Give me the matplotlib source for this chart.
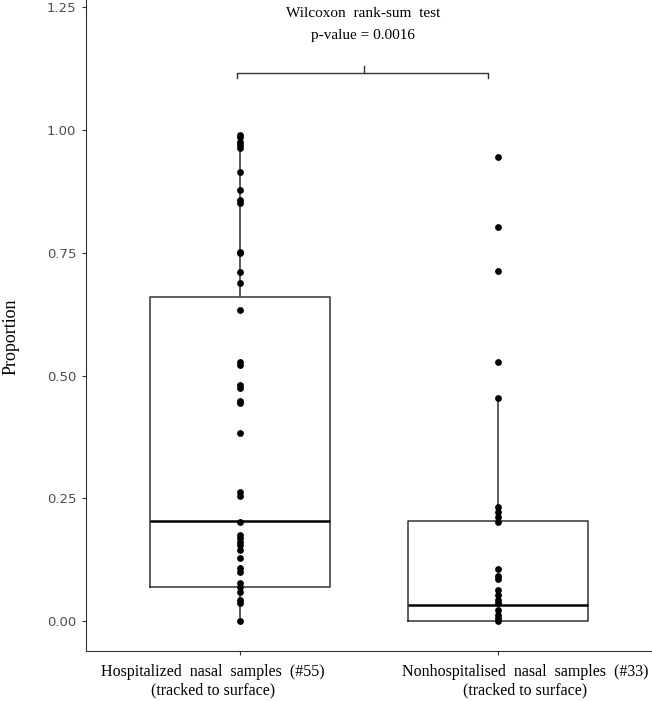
import numpy as np
import matplotlib.pyplot as plt

# groups
line1 = ['Hospitalized  nasal  samples  (#55)', 'Nonhospitalised  nasal  samples  (#33)']
line2 = ['(tracked to surface)', '(tracked to surface)']

# proportions
hosp = [0.99, 0.985, 0.976, 0.969, 0.963, 0.914, 0.878, 0.857, 0.851, 0.752,
        0.749, 0.711, 0.688, 0.633, 0.527, 0.522, 0.481, 0.475, 0.448, 0.444,
        0.383, 0.263, 0.254, 0.202, 0.175, 0.169, 0.161, 0.155, 0.145, 0.128,
        0.108, 0.100, 0.077, 0.069, 0.059, 0.043, 0.037, 0.0]
nonhosp = [0.945, 0.802, 0.713, 0.527, 0.454, 0.232, 0.222, 0.212, 0.202,
           0.106, 0.092, 0.086, 0.063, 0.053, 0.043, 0.037, 0.022, 0.012,
           0.006, 0.0]

# box statistics
whislo = [0.0, 0.0]
q1 = [0.07, 0.0]
med = [0.203, 0.033]
q3 = [0.66, 0.203]
whishi = [0.99, 0.454]

stats = []
for i in range(2):
    stats.append(dict(whislo=whislo[i], q1=q1[i], med=med[i], q3=q3[i],
                      whishi=whishi[i], fliers=[]))

fig = plt.figure(figsize=(6.52, 7.01), dpi=100)
ax = fig.add_axes([0.132, 0.0713, 0.868, 0.9287])

pos = [1, 2]
ax.bxp(stats, positions=pos, widths=0.70, showcaps=False, showfliers=False,
       boxprops=dict(color='#333333', linewidth=1.1),
       whiskerprops=dict(color='#4d4d4d', linewidth=1.3),
       medianprops=dict(color='black', linewidth=1.8))

for p, vals in zip(pos, [hosp, nonhosp]):
    ax.scatter([p] * len(vals), vals, s=24, color='black', zorder=3,
               linewidths=0)

# significance bracket
yb = 1.116
ax.plot([0.988, 0.988, 1.962, 1.962], [yb - 0.010, yb, yb, yb - 0.010],
        color='#333333', lw=1)
ax.plot([1.479, 1.479], [yb, yb + 0.014], color='#333333', lw=1)
ax.text(1.477, 1.238, 'Wilcoxon  rank-sum  test', ha='center', va='center',
        family='Liberation Serif', fontsize=11)
ax.text(1.477, 1.193, 'p-value = 0.0016', ha='center', va='center',
        family='Liberation Serif', fontsize=11)

ax.set_xlim(0.4, 2.6)
ax.set_ylim(-0.061, 1.265)
ax.set_yticks([0, 0.25, 0.5, 0.75, 1.0, 1.25])
ax.set_yticklabels(['0.00', '0.25', '0.50', '0.75', '1.00', '1.25'],
                   family='DejaVu Sans', fontsize=9.5, color='#4d4d4d')
ax.set_xticks(pos)
ax.set_xticklabels(['', ''])
ax.tick_params(axis='both', length=3, color='#333333', pad=4)

# x category labels, spread a little outward from the ticks as in the original
shift = [-20, 20]
for p, a, b, dx in zip(pos, line1, line2, shift):
    ax.annotate(a, xy=(p, 0), xycoords=('data', 'axes fraction'),
                xytext=(dx, -15), textcoords='offset points',
                ha='center', va='center', family='Liberation Serif', fontsize=11.5)
    ax.annotate(b, xy=(p, 0), xycoords=('data', 'axes fraction'),
                xytext=(dx, -28), textcoords='offset points',
                ha='center', va='center', family='Liberation Serif', fontsize=11.5)

for s in ['top', 'right']:
    ax.spines[s].set_visible(False)
ax.spines['left'].set_color('#333333')
ax.spines['bottom'].set_color('#333333')

ax.set_ylabel('Proportion', family='Liberation Serif', fontsize=13)
ax.yaxis.set_label_coords(-0.117, 0.482)

fig.savefig('out.png', dpi=100)
